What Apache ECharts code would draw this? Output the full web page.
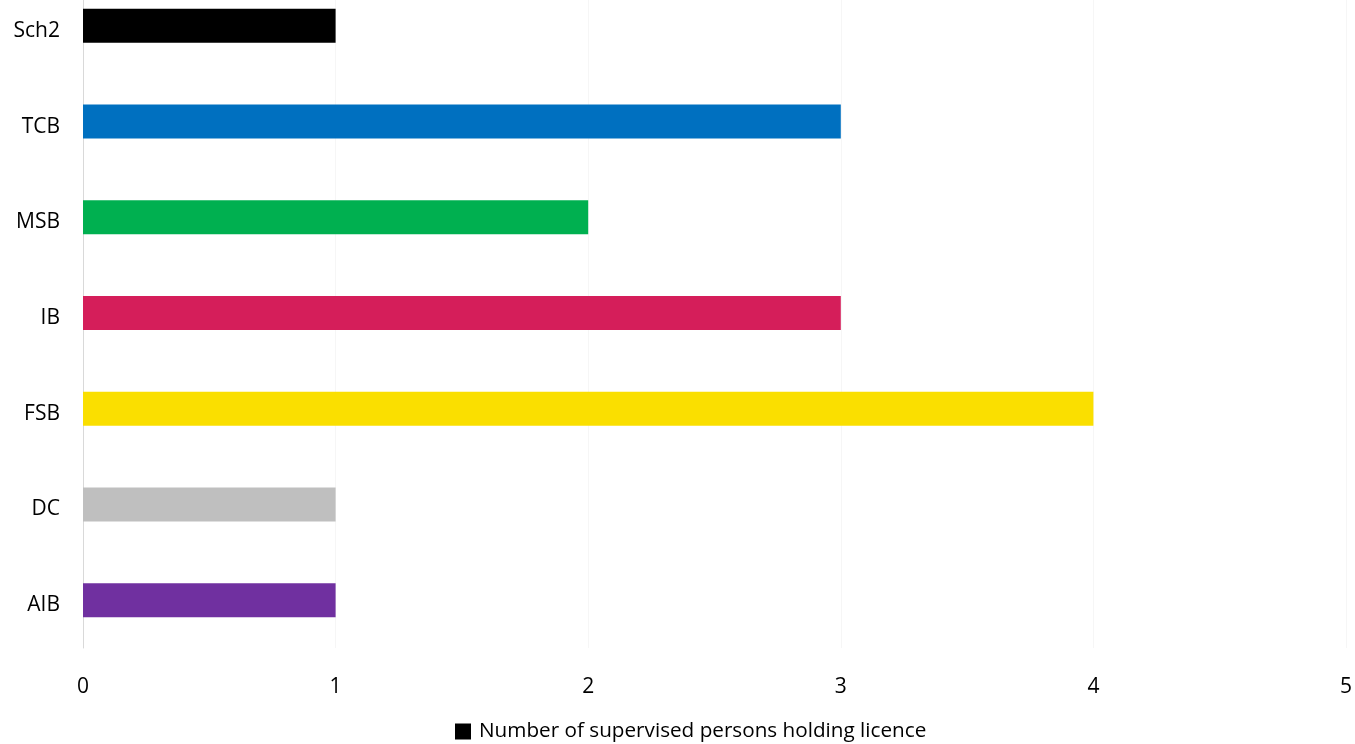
<!DOCTYPE html>
<html>
<head>
<meta charset="utf-8">
<script src="https://cdn.jsdelivr.net/npm/echarts@6/dist/echarts.min.js"></script>
<style>html,body{margin:0;padding:0;background:#fff;overflow:hidden}#c{position:relative;top:-22px;width:1355px;height:766px}</style>
</head>
<body>
<div id="c"></div>
<script>
const categories = ['AIB', 'DC', 'FSB', 'IB', 'MSB', 'TCB', 'Sch2'];
const values = [1, 1, 4, 3, 2, 3, 1];
const colors = ['#7030A0', '#BFBFBF', '#FADF00', '#D51E5A', '#00B050', '#0070C0', '#000000'];
const xTicks = [0, 1, 2, 3, 4, 5];
const seriesName = 'Number of supervised persons holding licence';

const chart = echarts.init(document.getElementById('c'));
const font = '"Open Sans", sans-serif';
chart.setOption({
  animation: false,
  grid: { left: 83, right: 9, top: 0, bottom: 96, containLabel: false },
  legend: {
    bottom: -3, left: 450,
    itemWidth: 16, itemHeight: 16, itemGap: 6,
    icon: 'rect',
    textStyle: { fontFamily: font, fontSize: 20.7, color: '#000', padding: [0, 0, 0, 3] },
    data: [{ name: seriesName, itemStyle: { color: '#000' } }]
  },
  xAxis: {
    type: 'value', min: 0, max: 5, interval: 1,
    axisLine: { show: false }, axisTick: { show: false },
    splitLine: { show: true, lineStyle: { color: '#f6f6f6', width: 1 } },
    axisLabel: { fontFamily: font, fontSize: 21, color: '#000', margin: 29,
      formatter: v => xTicks.includes(v) ? String(v) : '' }
  },
  yAxis: {
    type: 'category', data: categories,
    axisLine: { show: true, lineStyle: { color: '#d9d9d9' } },
    axisTick: { show: false },
    axisLabel: { fontFamily: font, fontSize: 21, color: '#000', margin: 23,
      verticalAlign: 'top', lineHeight: 10 }
  },
  series: [{
    name: seriesName, type: 'bar', barWidth: 34,
    data: values.map((v, i) => ({ value: v, itemStyle: { color: colors[i] } }))
  }]
});
</script>
</body>
</html>
